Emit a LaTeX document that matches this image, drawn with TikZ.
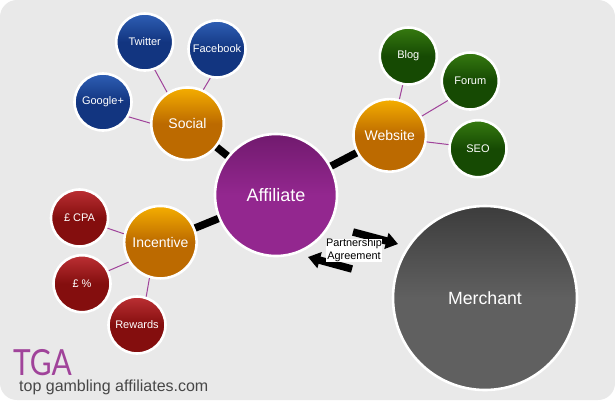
\documentclass[tikz,border=0pt]{standalone}
\usepackage{fontspec}
\setmainfont{Liberation Sans}
\newfontfamily\logofont{Lato}
\usetikzlibrary{shadows, arrows.meta}
\definecolor{panelgray}{HTML}{E9E9E9}
\definecolor{linkpurple}{HTML}{A0439A}
\definecolor{orangetop}{HTML}{F5AE00}
\definecolor{orangelow}{HTML}{BC6A00}
\definecolor{bluetop}{HTML}{2F5FB5}
\definecolor{bluelow}{HTML}{123580}
\definecolor{greentop}{HTML}{367A10}
\definecolor{greenlow}{HTML}{164A03}
\definecolor{redtop}{HTML}{BC3034}
\definecolor{redlow}{HTML}{840E0E}
\definecolor{purpletop}{HTML}{711A6E}
\definecolor{purplelow}{HTML}{93278F}
\definecolor{graytop}{HTML}{3C3C3C}
\definecolor{graylow}{HTML}{606060}
\tikzset{
    bubble/.style={circle, draw=white, line width=2.6pt, text=white, inner sep=0pt, align=center,
        drop shadow={shadow xshift=0.4pt, shadow yshift=-0.8pt, opacity=0.25}},
    hub/.style={bubble, minimum size=72.5pt, font=\fontsize{14}{16}\selectfont,
        top color=orangetop, bottom color=orangelow, middle color=orangelow},
    leaf/.style={bubble, minimum size=57pt, font=\fontsize{11}{13}\selectfont},
    bluebub/.style={leaf, top color=bluetop, bottom color=bluelow, middle color=bluelow},
    greenbub/.style={leaf, top color=greentop, bottom color=greenlow, middle color=greenlow},
    redbub/.style={leaf, top color=redtop, bottom color=redlow, middle color=redlow},
    link/.style={linkpurple, line width=1pt},
    spoke/.style={black, line width=7.5pt},
    deal/.style={black, line width=7.5pt, -{Triangle[length=12pt,width=16pt]}}
}
\begin{document}
\begin{tikzpicture}[x=1pt, y=-1pt]
    \useasboundingbox (0,0) rectangle (615,400);
    % Panel
    \fill[white] (0,0) rectangle (615,400);
    \fill[panelgray, rounded corners=17pt] (0,0) rectangle (615,400);

    % Main bubbles
    \node[bubble, minimum size=122pt, font=\fontsize{18}{20}\selectfont,
        top color=purpletop, bottom color=purplelow, middle color=purplelow] (affiliate) at (276,195) {Affiliate};
    \node[bubble, minimum size=184pt, font=\fontsize{17.7}{20}\selectfont,
        top color=graytop, bottom color=graylow, middle color=graylow] (merchant) at (485,298) {Merchant};

    % Hubs
    \node[hub] (social) at (187.5,123.7) {Social};
    \node[hub] (website) at (389.7,135.4) {Website};
    \node[hub] (incentive) at (160.4,242.2) {Incentive};

    % Social group
    \node[bluebub] (twitter) at (144.7,42) {Twitter};
    \node[bluebub] (facebook) at (217,49) {Facebook};
    \node[bluebub] (google) at (103,102) {Google+};

    % Website group
    \node[greenbub] (blog) at (408.3,56) {Blog};
    \node[greenbub] (forum) at (470.3,81) {Forum};
    \node[greenbub] (seo) at (478,148.7) {SEO};

    % Incentive group
    \node[redbub] (cpa) at (79.5,218) {£ CPA};
    \node[redbub] (percent) at (82,283.7) {£ \%};
    \node[redbub] (rewards) at (137,325) {Rewards};

    % Connectors
    \draw[spoke] (affiliate) -- (social);
    \draw[spoke] (affiliate) -- (website);
    \draw[spoke] (affiliate) -- (incentive);
    \draw[link] (social.123) -- (twitter.290);
    \draw[link] (social.65) -- (facebook.257);
    \draw[link] (social.179) -- (google.330);
    \draw[link] (website.75) -- (blog.259);
    \draw[link] (website.31) -- (forum.221);
    \draw[link] (website.350) -- (seo.172);
    \draw[link] (incentive.167) -- (cpa.340);
    \draw[link] (incentive.212) -- (percent.26);
    \draw[link] (incentive.253) -- (rewards.72);

    % Agreement arrows
    \coordinate (dealstart) at (353,232);
    \coordinate (dealend) at (398,244);
    \coordinate (backstart) at (352,269);
    \coordinate (backend) at (308,257);
    \draw[deal] (dealstart) -- (dealend);
    \draw[deal] (backstart) -- (backend);
    \node[fill=white, inner sep=0pt, align=center, font=\fontsize{10.9}{13}\selectfont] (agreement) at (354,250.5) {Partnership\\Agreement};

    % Logo
    \node[anchor=base west, inner sep=0pt, text=linkpurple, font=\fontsize{36}{38}\logofont] (logo) at (13,375) {\scalebox{0.83}[1]{TGA}};
    \node[anchor=base west, inner sep=0pt, text=black!72, font=\fontsize{16}{18}\selectfont] (site) at (19,391) {top gambling affiliates.com};
\end{tikzpicture}
\end{document}
